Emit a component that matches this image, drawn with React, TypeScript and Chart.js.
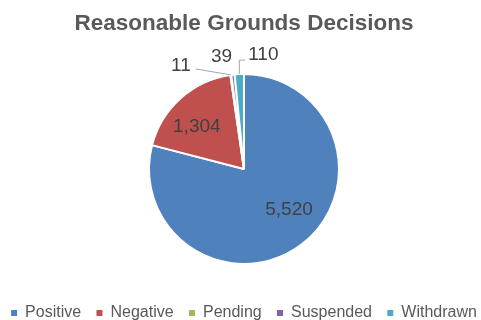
import React, { useEffect, useRef } from 'react';
import { Chart, registerables } from 'chart.js';

Chart.register(...registerables);

const chartTitle = 'Reasonable Grounds Decisions';
const categories = ['Positive', 'Negative', 'Pending', 'Suspended', 'Withdrawn'];
const decisionCounts = [5520, 1304, 11, 39, 110];
const sliceColors = ['#4F81BD', '#C0504D', '#9BBB59', '#8064A2', '#4BACC6'];

const FONT = '"Liberation Sans", Arial, sans-serif';

// label placement styles (per slice): inside labels use angle shift + radius fraction,
// outside labels use an offset from the slice's outer mid-point and an optional leader
const labelLayout: any[] = [
  { mode: 'in', shiftDeg: -10, rf: 0.64 },
  { mode: 'in', shiftDeg: -6, rf: 0.67 },
  { mode: 'out', dx: -50, dy: -9, leader: 'line' },
  { mode: 'out', dx: -11.5, dy: -17.5, leader: 'none' },
  { mode: 'out', dx: 24, dy: -19, leader: 'elbow' },
];

const sliceLabelPlugin = {
  id: 'sliceLabels',
  afterDatasetsDraw(chart: any) {
    const ctx = chart.ctx;
    const meta = chart.getDatasetMeta(0);
    ctx.save();
    ctx.font = `19px ${FONT}`;
    ctx.textAlign = 'center';
    ctx.textBaseline = 'middle';
    meta.data.forEach((arc: any, i: number) => {
      const p = arc.getProps(['x', 'y', 'startAngle', 'endAngle', 'outerRadius'], true);
      const mid = (p.startAngle + p.endAngle) / 2;
      const text = decisionCounts[i].toLocaleString('en-US');
      const cfg = labelLayout[i];
      ctx.fillStyle = '#404040';
      if (cfg.mode === 'in') {
        const a = mid + (cfg.shiftDeg * Math.PI) / 180;
        const r = p.outerRadius * cfg.rf;
        ctx.fillText(text, p.x + Math.cos(a) * r, p.y + Math.sin(a) * r);
      } else {
        const ax = p.x + Math.cos(mid) * p.outerRadius;
        const ay = p.y + Math.sin(mid) * p.outerRadius;
        const lx = ax + cfg.dx;
        const ly = ay + cfg.dy;
        const w = ctx.measureText(text).width;
        ctx.fillText(text, lx, ly);
        ctx.strokeStyle = '#A6A6A6';
        ctx.lineWidth = 1;
        if (cfg.leader === 'line') {
          ctx.beginPath();
          ctx.moveTo(lx + w / 2 + 5, ly + 3);
          ctx.lineTo(ax, ay);
          ctx.stroke();
        } else if (cfg.leader === 'elbow') {
          ctx.beginPath();
          ctx.moveTo(ax, ay);
          ctx.lineTo(ax, ly + 5);
          ctx.lineTo(lx - w / 2 - 3, ly + 5);
          ctx.stroke();
        }
      }
    });
    ctx.restore();
  },
};

export default function App() {
  const canvasRef = useRef<HTMLCanvasElement | null>(null);

  useEffect(() => {
    if (!canvasRef.current) return;
    const chart = new Chart(canvasRef.current, {
      type: 'pie',
      data: {
        labels: categories,
        datasets: [
          {
            data: decisionCounts,
            backgroundColor: sliceColors,
            borderColor: '#FFFFFF',
            borderWidth: 2,
            hoverOffset: 0,
            offset: 0,
            radius: 95,
          } as any,
        ],
      },
      options: {
        animation: false,
        responsive: true,
        maintainAspectRatio: false,
        events: [],
        layout: { padding: { left: 7, right: 0, top: 0, bottom: -11 } },
        plugins: {
          title: {
            display: true,
            text: chartTitle,
            color: '#595959',
            font: { family: FONT, size: 22.5, weight: 'bold' },
            padding: { top: 10, bottom: -2 },
          },
          legend: {
            display: true,
            position: 'bottom',
            labels: {
              color: '#595959',
              font: { family: FONT, size: 16 },
              usePointStyle: true,
              pointStyle: 'rect',
              boxWidth: 6,
              boxHeight: 6,
              padding: 2,
              generateLabels: (c: any) => {
                const items = (Chart as any).overrides.pie.plugins.legend.labels.generateLabels(c);
                return items.map((it: any, i: number) => ({
                  ...it,
                  lineWidth: 0,
                  strokeStyle: it.fillStyle,
                  text: i < items.length - 1 ? it.text + '   ' : it.text,
                }));
              },
            },
          },
          tooltip: { enabled: false },
        },
      },
      plugins: [sliceLabelPlugin],
    });
    return () => chart.destroy();
  }, []);

  return (
    <div style={{ position: 'fixed', left: 0, top: 0, width: 481, height: 320, background: '#fff' }}>
      <canvas ref={canvasRef} />
    </div>
  );
}
